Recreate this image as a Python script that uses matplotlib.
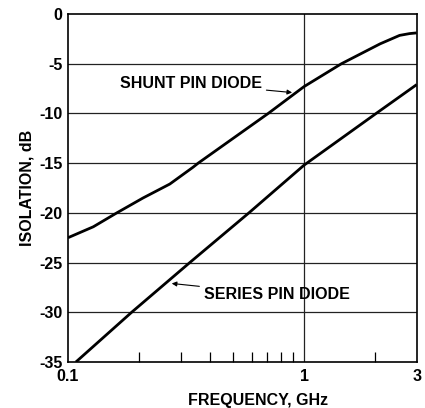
import matplotlib
matplotlib.use("Agg")
import matplotlib.pyplot as plt
from matplotlib.ticker import FixedLocator, NullFormatter

shunt_freq = [0.1, 0.128, 0.161, 0.208, 0.27, 0.339, 0.356, 0.705, 1.0, 1.44, 1.84, 2.10, 2.54, 2.8, 3.0]
shunt_db = [-22.5, -21.4, -20.0, -18.5, -17.1, -15.4, -15.0, -10.0, -7.3, -5.0, -3.7, -3.0, -2.15, -1.97, -1.9]

series_freq = [0.108, 0.186, 0.328, 0.584, 1.0, 2.02, 3.0]
series_db = [-35.0, -30.0, -25.0, -20.0, -15.2, -10.0, -7.1]

x_tick_vals = [0.1, 1, 3]
x_tick_labels = ["0.1", "1", "3"]
x_minor_vals = [0.2, 0.3, 0.4, 0.5, 0.6, 0.7, 0.8, 0.9, 2]
y_tick_vals = [0, -5, -10, -15, -20, -25, -30, -35]
y_tick_labels = ["0", "-5", "-10", "-15", "-20", "-25", "-30", "-35"]

plt.rcParams['font.family'] = ['Liberation Sans', 'DejaVu Sans']
plt.rcParams['font.weight'] = 'bold'
FS = 11.5

fig = plt.figure(figsize=(4.25, 4.08), dpi=100)
ax = fig.add_axes([68/425, 1-362/408, (416.7-68)/425, (362-14)/408])

ax.set_xscale('log')
ax.set_xlim(0.1, 3)
ax.set_ylim(-35, 0)

for y in [-5, -10, -15, -20, -25, -30]:
    ax.axhline(y, color='#222222', lw=0.9, zorder=1)
ax.axvline(1, color='#222222', lw=0.9, zorder=1)

ax.plot(shunt_freq, shunt_db, color='black', lw=2.0, zorder=3, solid_capstyle='butt')
ax.plot(series_freq, series_db, color='black', lw=2.0, zorder=3, solid_capstyle='butt')

for s in ax.spines.values():
    s.set_linewidth(1.2)

ax.xaxis.set_major_locator(FixedLocator(x_tick_vals))
ax.set_xticklabels(x_tick_labels, fontsize=FS, fontweight='bold')
ax.xaxis.set_minor_locator(FixedLocator(x_minor_vals))
ax.xaxis.set_minor_formatter(NullFormatter())
ax.tick_params(axis='x', which='major', length=0, pad=5)
ax.tick_params(axis='x', which='minor', direction='in', length=7, width=0.9)
ax.set_yticks(y_tick_vals)
ax.set_yticklabels(y_tick_labels, fontsize=FS, fontweight='bold')
ax.tick_params(axis='y', length=0, pad=4)

ax.set_ylabel("ISOLATION, dB", fontsize=FS, fontweight='bold', labelpad=3)
fig.text(258/425, 1-400/408, "FREQUENCY, GHz", ha='center', va='center', fontsize=FS, fontweight='bold')

ax.annotate("SHUNT PIN DIODE", xy=(0.89, -7.9), xytext=(0.665, -6.95),
            ha='right', va='center', fontsize=FS, fontweight='bold',
            arrowprops=dict(arrowstyle='-|>', color='black', lw=0.8, mutation_scale=7,
                            shrinkA=1, shrinkB=0))
ax.annotate("SERIES PIN DIODE", xy=(0.275, -27.1), xytext=(0.375, -28.2),
            ha='left', va='center', fontsize=FS, fontweight='bold',
            arrowprops=dict(arrowstyle='-|>', color='black', lw=0.8, mutation_scale=7,
                            shrinkA=1, shrinkB=0))

fig.savefig("out.png", dpi=100)
